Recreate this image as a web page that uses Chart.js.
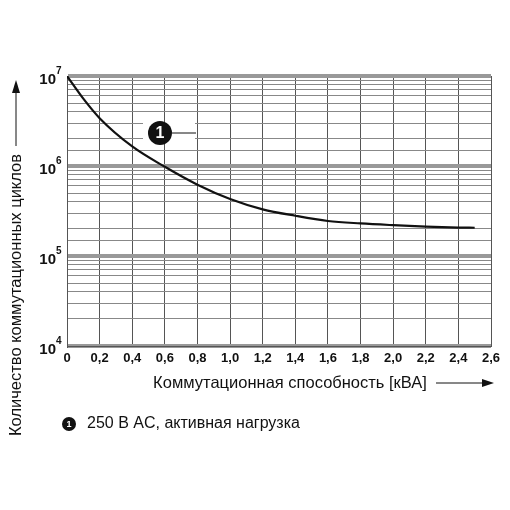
<!DOCTYPE html>
<html><head><meta charset="utf-8">
<script src="https://cdn.jsdelivr.net/npm/chart.js@4"></script>
<style>body{margin:0;background:#fff}</style></head>
<body><canvas id="c" width="510" height="510"></canvas>
<script>
var loadKVA = [0, 0.1, 0.2, 0.4, 0.6, 0.8, 1.0, 1.2, 1.4, 1.6, 1.8, 2.0, 2.2, 2.4, 2.5];
var cycles = [1e7, 5.6e6, 3.4e6, 1.65e6, 9.8e5, 6.2e5, 4.3e5, 3.3e5, 2.8e5, 2.45e5, 2.3e5, 2.2e5, 2.12e5, 2.07e5, 2.06e5];
var xTicks = [0, 0.2, 0.4, 0.6, 0.8, 1.0, 1.2, 1.4, 1.6, 1.8, 2.0, 2.2, 2.4, 2.6];
var yExps = [4, 5, 6, 7];
var seriesLabel = "250 В AC, активная нагрузка";

var font = '"Liberation Sans", Arial, sans-serif';

var overlay = {
  id: "overlay",
  afterDraw: function (chart) {
    var c = chart.ctx, xs = chart.scales.x, ys = chart.scales.y, a = chart.chartArea;
    c.save();
    c.fillStyle = "#111";
    c.strokeStyle = "#111";
    // x tick labels
    c.font = "bold 13px " + font;
    c.textAlign = "center";
    c.textBaseline = "top";
    xTicks.forEach(function (v) {
      c.fillText(v === 0 ? "0" : v.toFixed(1).replace(".", ","), xs.getPixelForValue(v), a.bottom + 6);
    });
    // y tick labels with superscript
    yExps.forEach(function (e) {
      var py = ys.getPixelForValue(Math.pow(10, e));
      c.font = "bold 15px " + font;
      c.textAlign = "right";
      c.textBaseline = "middle";
      c.fillText("10", a.left - 11, py + 4);
      c.font = "bold 10px " + font;
      c.textAlign = "left";
      c.fillText(String(e), a.left - 11, py - 5);
    });
    // x title with arrow
    c.font = "16.5px " + font;
    c.textAlign = "center";
    c.textBaseline = "middle";
    c.fillText("Коммутационная способность [кВА]", 290, 383);
    c.lineWidth = 1;
    c.beginPath(); c.moveTo(436, 383); c.lineTo(485, 383); c.stroke();
    c.beginPath(); c.moveTo(494, 383); c.lineTo(482, 379); c.lineTo(482, 387); c.closePath(); c.fill();
    // y title with arrow
    c.save();
    c.translate(16, 436);
    c.rotate(-Math.PI / 2);
    c.textAlign = "left";
    c.fillText("Количество коммутационных циклов", 0, 0);
    c.restore();
    c.beginPath(); c.moveTo(16, 146); c.lineTo(16, 92); c.stroke();
    c.beginPath(); c.moveTo(16, 80); c.lineTo(12, 93); c.lineTo(20, 93); c.closePath(); c.fill();
    // callout
    function badge(x, y, r) {
      c.beginPath(); c.arc(x, y, r, 0, Math.PI * 2); c.fillStyle = "#111"; c.fill();
      c.fillStyle = "#fff";
      c.font = "bold " + Math.round(r * 1.3) + "px " + font;
      c.textAlign = "center"; c.textBaseline = "middle";
      c.fillText("1", x, y + 1);
      c.fillStyle = "#111";
    }
    c.fillStyle = "#fff";
    c.fillRect(143, 122, 52, 22);
    c.fillStyle = "#111";
    c.beginPath(); c.moveTo(172, 133); c.lineTo(196, 133); c.stroke();
    badge(160, 133, 12);
    // legend
    badge(69, 424, 7);
    c.font = "16px " + font;
    c.textAlign = "left"; c.textBaseline = "middle";
    c.fillText(seriesLabel, 87, 424);
    c.restore();
  }
};

new Chart(document.getElementById("c").getContext("2d"), {
  type: "line",
  data: {
    datasets: [{
      label: seriesLabel,
      data: loadKVA.map(function (x, i) { return { x: x, y: cycles[i] }; }),
      borderColor: "#111",
      borderWidth: 2.2,
      pointRadius: 0,
      cubicInterpolationMode: "monotone",
      fill: false
    }]
  },
  options: {
    responsive: false,
    animation: false,
    layout: { padding: { left: 67, right: 19, top: 76, bottom: 164 } },
    plugins: { legend: { display: false }, tooltip: { enabled: false } },
    scales: {
      x: {
        type: "linear", min: 0, max: 2.6,
        ticks: { display: false, stepSize: 0.2 },
        grid: { color: "#555", lineWidth: 1, drawTicks: false },
        border: { color: "#555" }
      },
      y: {
        type: "logarithmic", min: 1e4, max: 1e7,
        ticks: { display: false },
        grid: {
          drawTicks: false,
          color: function (ctx) {
            var v = ctx.tick ? ctx.tick.value : 0;
            var m = v / Math.pow(10, Math.floor(Math.log10(v) + 1e-9));
            return Math.abs(m - 1) < 1e-6 ? "#999" : "#888";
          },
          lineWidth: function (ctx) {
            var v = ctx.tick ? ctx.tick.value : 0;
            var m = v / Math.pow(10, Math.floor(Math.log10(v) + 1e-9));
            return Math.abs(m - 1) < 1e-6 ? 4 : 1;
          }
        },
        border: { color: "#555" }
      }
    }
  },
  plugins: [overlay]
});
</script></body></html>
